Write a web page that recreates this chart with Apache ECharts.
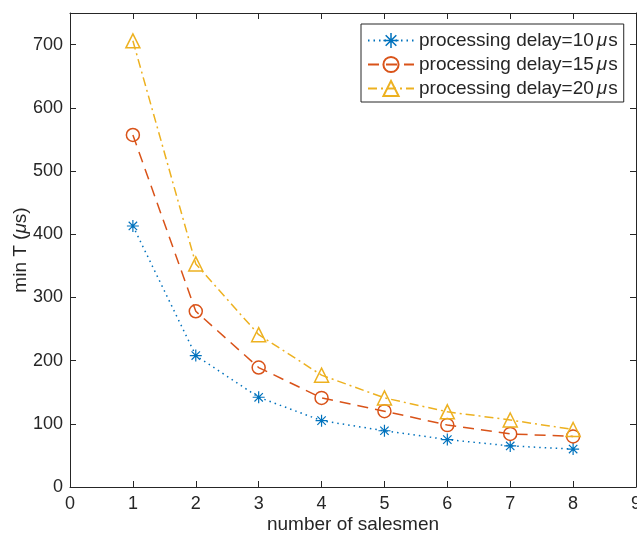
<!DOCTYPE html>
<html>
<head>
<meta charset="utf-8">
<script src="https://cdn.jsdelivr.net/npm/echarts@6/dist/echarts.min.js"></script>
<style>
  html, body { margin: 0; padding: 0; background: #fff; }
  #chart { width: 637px; height: 537px; }
</style>
</head>
<body>
<div id="chart"></div>
<script>
// data
var salesmen = [1, 2, 3, 4, 5, 6, 7, 8];
var delay10 = [413, 208, 142, 105, 89, 75, 65, 60];
var delay15 = [557, 278, 189, 141, 120, 98, 84, 80];
var delay20 = [706, 353, 241, 177, 141, 119, 106, 91];
var seriesNames = ['processing delay=10μs', 'processing delay=15μs', 'processing delay=20μs'];

var colors = ['#0072BD', '#D95319', '#EDB120'];
var axisColor = '#262626';
var font = 'Liberation Sans, Arial, Helvetica, sans-serif';

// asterisk marker built from four thin bars
var asterisk = 'path://M-1,-10L1,-10L1,10L-1,10Z' +
    'M-10,-1L10,-1L10,1L-10,1Z' +
    'M-6.3,-7.7L7.7,6.3L6.3,7.7L-7.7,-6.3Z' +
    'M-7.7,6.3L6.3,-7.7L7.7,-6.3L-6.3,7.7Z';

function pairs(ys) {
    var out = [];
    for (var i = 0; i < salesmen.length; i++) {
        out.push([salesmen[i], ys[i]]);
    }
    return out;
}

var dom = document.getElementById('chart');
var myChart = echarts.init(dom);

var axisLineStyle = { color: axisColor, width: 1 };

var option = {
    animation: false,
    backgroundColor: '#fff',
    textStyle: { fontFamily: font },
    grid: { left: 70, right: 1, top: 13, bottom: 50, containLabel: false, outerBoundsMode: 'none' },
    legend: {
        left: 361,
        top: 24,
        orient: 'vertical',
        align: 'left',
        backgroundColor: '#fff',
        borderColor: axisColor,
        borderWidth: 1,
        borderRadius: 0,
        padding: [7, 6, 4, 6],
        itemWidth: 46,
        itemHeight: 19,
        itemGap: 5,
        data: seriesNames,
        formatter: function (name) {
            var parts = name.split('μ');
            return '{t|' + parts[0] + '}{m|μ}{t|' + parts[1] + '}';
        },
        textStyle: {
            color: axisColor,
            fontFamily: font,
            fontSize: 19,
            rich: {
                t: { fontFamily: font, fontSize: 19, color: axisColor, lineHeight: 19 },
                m: { fontFamily: font, fontSize: 19, color: axisColor, fontStyle: 'italic', lineHeight: 19, padding: [0, 1, 0, 3] }
            }
        }
    },
    xAxis: [{
        type: 'value',
        min: 0,
        max: 9,
        interval: 1,
        name: 'number of salesmen',
        nameLocation: 'middle',
        nameGap: 28,
        nameMoveOverlap: false,
        nameTextStyle: { color: axisColor, fontFamily: font, fontSize: 19 },
        axisLine: { show: true, onZero: false, lineStyle: axisLineStyle },
        axisTick: { show: true, inside: true, length: 6, lineStyle: axisLineStyle },
        axisLabel: { color: axisColor, fontFamily: font, fontSize: 18, margin: 8 },
        splitLine: { show: false }
    }, {
        type: 'value',
        position: 'top',
        min: 0,
        max: 9,
        interval: 1,
        axisLine: { show: true, onZero: false, lineStyle: axisLineStyle },
        axisTick: { show: true, inside: true, length: 6, lineStyle: axisLineStyle },
        axisLabel: { show: false },
        splitLine: { show: false }
    }],
    yAxis: [{
        type: 'value',
        min: 0,
        max: 750,
        interval: 100,
        name: '{t|min T (}{m|μ}{t|s)}',
        nameLocation: 'middle',
        nameGap: 40,
        nameMoveOverlap: false,
        nameTextStyle: {
            color: axisColor,
            rich: {
                t: { fontFamily: font, fontSize: 19, color: axisColor },
                m: { fontFamily: font, fontSize: 19, color: axisColor, fontStyle: 'italic' }
            }
        },
        axisLine: { show: true, onZero: false, lineStyle: axisLineStyle },
        axisTick: { show: true, inside: true, length: 6, lineStyle: axisLineStyle },
        axisLabel: { color: axisColor, fontFamily: font, fontSize: 18, margin: 7, showMaxLabel: false },
        splitLine: { show: false }
    }, {
        type: 'value',
        position: 'right',
        min: 0,
        max: 750,
        interval: 100,
        axisLine: { show: true, onZero: false, lineStyle: axisLineStyle },
        axisTick: { show: true, inside: true, length: 6, lineStyle: axisLineStyle },
        axisLabel: { show: false },
        splitLine: { show: false }
    }],
    series: [{
        name: seriesNames[0],
        type: 'line',
        data: pairs(delay10),
        symbol: asterisk,
        symbolSize: 12,
        showAllSymbol: true,
        itemStyle: { color: colors[0], borderWidth: 0 },
        lineStyle: { color: colors[0], width: 1.5, type: [1.5, 4] }
    }, {
        name: seriesNames[1],
        type: 'line',
        data: pairs(delay15),
        symbol: 'circle',
        symbolSize: 13,
        showAllSymbol: true,
        itemStyle: { color: 'rgba(255,255,255,0)', borderColor: colors[1], borderWidth: 1.5 },
        lineStyle: { color: colors[1], width: 1.5, type: [11, 7] }
    }, {
        name: seriesNames[2],
        type: 'line',
        data: pairs(delay20),
        symbol: 'triangle',
        symbolSize: 14,
        showAllSymbol: true,
        itemStyle: { color: 'rgba(255,255,255,0)', borderColor: colors[2], borderWidth: 1.5 },
        lineStyle: { color: colors[2], width: 1.5, type: [9, 4, 2, 4] }
    }]
};
myChart.setOption(option, true);
</script>
</body>
</html>
